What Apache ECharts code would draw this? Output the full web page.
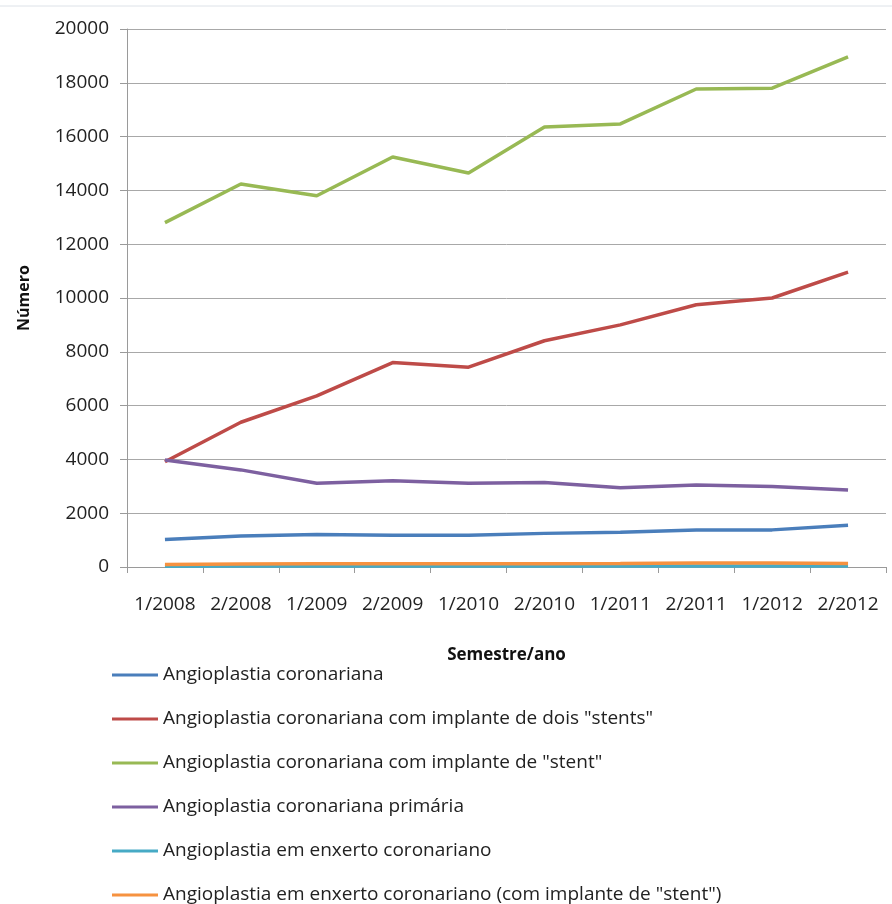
<!DOCTYPE html>
<html>
<head>
<meta charset="utf-8">
<script src="https://cdn.jsdelivr.net/npm/echarts@6/dist/echarts.min.js"></script>
<style>
html,body{margin:0;padding:0;background:#fff;}
#c{width:892px;height:904px;}
</style>
</head>
<body>
<div id="c"></div>
<script>
var categories = ['1/2008','2/2008','1/2009','2/2009','1/2010','2/2010','1/2011','2/2011','1/2012','2/2012'];
var seriesNames = [
  'Angioplastia coronariana',
  'Angioplastia coronariana com implante de dois "stents"',
  'Angioplastia coronariana com implante de "stent"',
  'Angioplastia coronariana primária',
  'Angioplastia em enxerto coronariano',
  'Angioplastia em enxerto coronariano (com implante de "stent")'
];
var coronariana = [1020,1150,1210,1180,1180,1250,1290,1380,1380,1550];
var doisStents = [3910,5380,6360,7600,7430,8410,9000,9750,10000,10960];
var umStent = [12800,14240,13800,15240,14650,16360,16470,17770,17800,18960];
var primaria = [3980,3610,3110,3210,3110,3140,2950,3050,2990,2860];
var enxerto = [30,35,35,35,35,35,35,40,40,35];
var enxertoStent = [90,110,120,120,120,125,130,150,145,130];
var yTicks = {min:0, max:20000, interval:2000};

var colors = ['#4a7ebb','#be4b48','#98b954','#7d60a0','#46aac5','#f69240'];
var dataList = [coronariana, doisStents, umStent, primaria, enxerto, enxertoStent];

var fontFam = '"Open Sans", "Noto Sans", sans-serif';
var chart = echarts.init(document.getElementById('c'), null, {renderer:'canvas'});
var series = seriesNames.map(function(n,i){
  return {
    name:n, type:'line', data:dataList[i], showSymbol:false, symbol:'none',
    lineStyle:{width:3.5, color:colors[i]}, itemStyle:{color:colors[i]},
    z: 2 + i, animation:false
  };
});
chart.setOption({
  backgroundColor:'#ffffff',
  animation:false,
  color:colors,
  graphic:[{type:'line', shape:{x1:0,y1:6,x2:892,y2:6}, style:{stroke:'#dde2e8', lineWidth:1}}],
  grid:{left:127, top:29, right:6, bottom:337, containLabel:false},
  xAxis:{
    type:'category', data:categories, boundaryGap:true,
    name:'Semestre/ano', nameLocation:'middle', nameGap:80,
    nameTextStyle:{fontFamily:fontFam, fontWeight:'bold', fontSize:17, color:'#111'},
    axisLine:{lineStyle:{color:'#9a9a9a', width:1}},
    axisTick:{show:true, length:6, alignWithLabel:false, lineStyle:{color:'#9a9a9a'}},
    axisLabel:{fontFamily:fontFam, fontSize:19, color:'#222', margin:28, interval:0}
  },
  yAxis:{
    type:'value', min:yTicks.min, max:yTicks.max, interval:yTicks.interval,
    name:'Número', nameLocation:'middle', nameGap:95, nameRotate:90,
    nameTextStyle:{fontFamily:fontFam, fontWeight:'bold', fontSize:16, color:'#111'},
    axisLine:{show:true, lineStyle:{color:'#9a9a9a', width:1}},
    axisTick:{show:true, length:7, lineStyle:{color:'#9a9a9a'}},
    axisLabel:{fontFamily:fontFam, fontSize:19, color:'#222', margin:18,
      formatter:function(v){return String(v);}},
    splitLine:{lineStyle:{color:'#a8a8a8', width:1}}
  },
  legend:{
    orient:'vertical', left:112, top:665, padding:0, height:240,
    icon:'rect', itemWidth:46, itemHeight:3, itemGap:24,
    data:seriesNames,
    textStyle:{fontFamily:fontFam, fontSize:19, color:'#222', lineHeight:20},
    selectedMode:false
  },
  series:series
});
</script>
</body>
</html>
